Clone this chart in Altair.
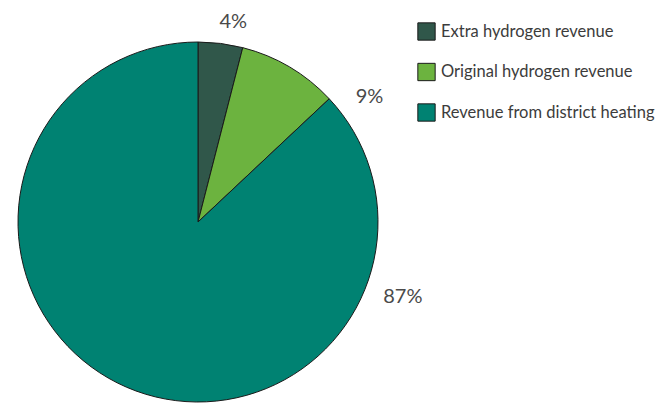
import altair as alt
import pandas as pd

categories = ["Extra hydrogen revenue", "Original hydrogen revenue", "Revenue from district heating"]
values = [4, 9, 87]
labels = ["4%", "9%", "87%"]
colors = ["#30574A", "#6CB33F", "#008272"]
label_angles = [10, 54, 110]
label_radii = [203, 212, 218]

df = pd.DataFrame({
    "category": categories,
    "value": values,
    "label": labels,
    "order": list(range(len(categories))),
    "la": label_angles,
    "lr": label_radii,
})

cx, cy = 190, 214

pie = alt.Chart(df).mark_arc(outerRadius=180, stroke="#1a1a1a", strokeWidth=1).encode(
    theta=alt.Theta("value:Q", stack=True),
    color=alt.Color(
        "category:N",
        sort=categories,
        scale=alt.Scale(domain=categories, range=colors),
        legend=alt.Legend(
            title=None,
            orient="none",
            legendX=409,
            legendY=14,
            symbolType="square",
            symbolSize=300,
            symbolStrokeColor="#1a1a1a",
            symbolStrokeWidth=1,
            labelFontSize=16.5,
            labelFont="Lato",
            labelColor="#3c3c3c",
            labelOffset=5,
            rowPadding=17.5,
            labelLimit=300,
        ),
    ),
    order=alt.Order("order:Q"),
    x=alt.value(cx),
    y=alt.value(cy),
)

text = alt.Chart(df).mark_text(fontSize=20, font="Lato", color="#4a4a4a").encode(
    theta=alt.Theta("la:Q", stack=None, scale=alt.Scale(domain=[0, 360], range=[0, 6.283185307])),
    radius=alt.Radius("lr:Q", scale=alt.Scale(type="linear", domain=[0, 300], range=[0, 300], zero=True)),
    text="label:N",
    x=alt.value(cx),
    y=alt.value(cy),
)

chart = alt.layer(pie, text).resolve_scale(theta="independent", radius="independent").properties(
    width=652, height=396, autosize="none", padding=0
).configure_view(stroke=None)

chart.save("out.html", embed_options={"renderer": "svg", "actions": False})
